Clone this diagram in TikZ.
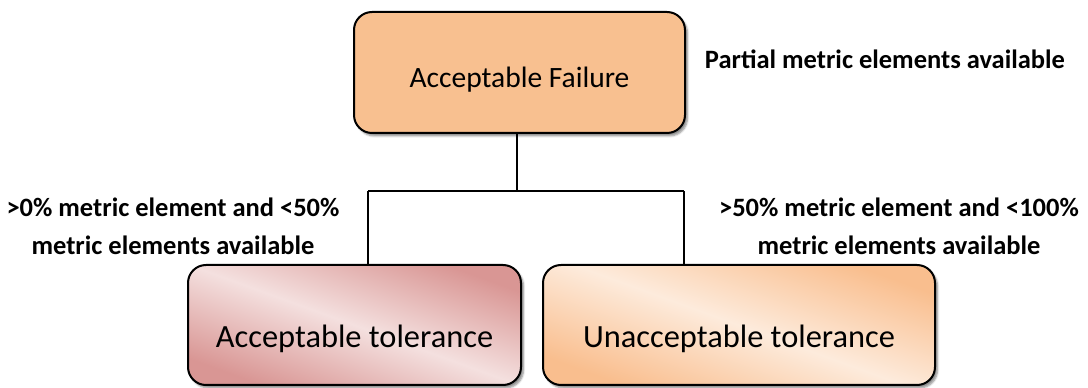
\documentclass[tikz,border=0pt]{standalone}
\usepackage{fontspec}
\setmainfont{Carlito}
\usetikzlibrary{shadows.blur}
\definecolor{topfill}{HTML}{F8C090}
\definecolor{roseDark}{HTML}{D99694}
\definecolor{roseLight}{HTML}{F4E0DF}
\definecolor{peachDark}{HTML}{F9BE8E}
\definecolor{peachLight}{HTML}{FDEBDC}
% lower a label inside its node without changing the node's size
\newcommand{\sinktext}[2]{\raisebox{-#1}[\height][\depth]{#2}}
\tikzset{
  box/.style={draw=black, line width=2pt, rounded corners=18pt,
    inner sep=0pt, align=center,
    blur shadow={shadow xshift=2.5pt, shadow yshift=-3pt,
      shadow blur steps=5, shadow opacity=45}},
  link/.style={draw=black, line width=1.3pt},
  note/.style={font=\bfseries\fontsize{26.5}{38}\selectfont, align=center}
}
\begin{document}
\begin{tikzpicture}[x=1pt,y=1pt]
\useasboundingbox (0,0) rectangle (1088,388);

% root decision box
\node[box, fill=topfill, minimum width=331pt, minimum height=121pt,
  font=\fontsize{29.5}{34}\selectfont] (root) at (519.5,315.5)
  {\sinktext{7pt}{Acceptable Failure}};

% outcome boxes
\node[box, minimum width=333pt, minimum height=120pt,
  shading=axis, top color=roseDark, bottom color=roseDark,
  middle color=roseLight, shading angle=-20,
  font=\fontsize{32.4}{36}\selectfont] (acc) at (354.5,63)
  {\sinktext{14pt}{Acceptable tolerance}};
\node[box, minimum width=392pt, minimum height=120pt,
  shading=axis, top color=peachDark, bottom color=peachDark,
  middle color=peachLight, shading angle=-20,
  font=\fontsize{32.4}{36}\selectfont] (unacc) at (739,63)
  {\sinktext{14pt}{Unacceptable tolerance}};

% branching connector
\coordinate (j) at (517,197);
\coordinate (jl) at (368,197);
\coordinate (jr) at (684,197);
\draw[link] (root.south -| j) -- (j);
\draw[link] (jl) -- (jr);
\draw[link] (jl) -- (jl |- acc.north);
\draw[link] (jr) -- (jr |- unacc.north);

% condition labels
\node[note] (lpartial) at (885,329) {Partial metric elements available};
\node[note] (lleft) at (173,162) {>0\% metric element and <50\%\\metric elements available};
\node[note] (lright) at (899,162) {>50\% metric element and <100\%\\metric elements available};
\end{tikzpicture}
\end{document}
